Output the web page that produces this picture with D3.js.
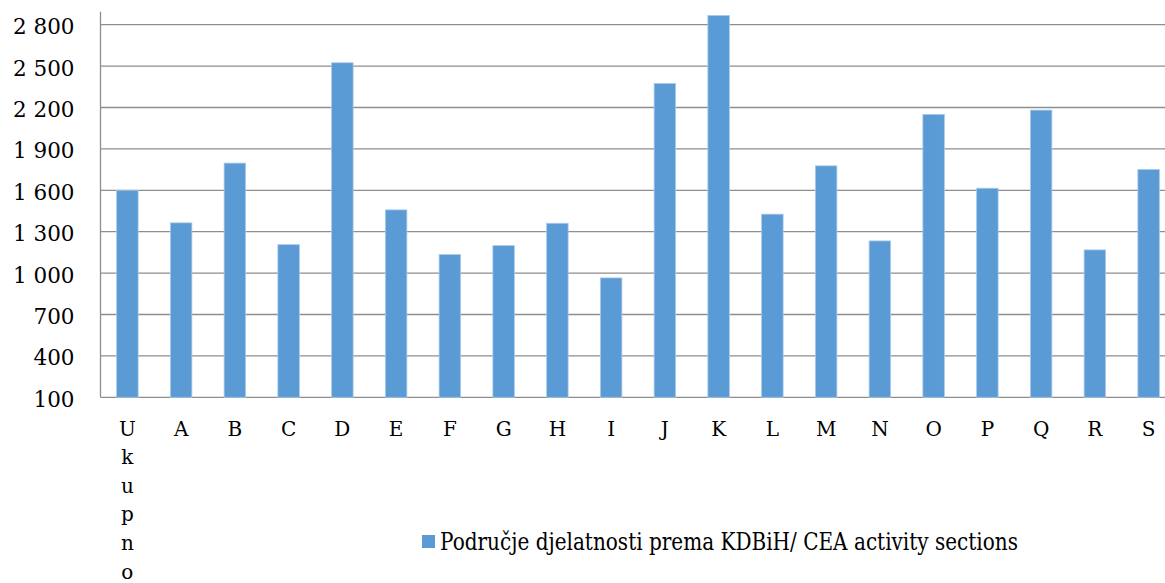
<!DOCTYPE html>
<html>
<head>
<meta charset="utf-8">
<script src="https://cdn.jsdelivr.net/npm/d3@7"></script>
<style>
  body { margin: 0; background: #fff; }
  svg { display: block; }
  .tick text { font-family: "DejaVu Serif", serif; fill: #000; }
</style>
</head>
<body>
<div id="chart"></div>
<script>
// Data
var categories = ["Ukupno", "A", "B", "C", "D", "E", "F", "G", "H", "I",
                  "J", "K", "L", "M", "N", "O", "P", "Q", "R", "S"];
var values = [1600, 1364, 1797, 1206, 2524, 1458, 1134, 1199, 1361, 965,
              2374, 2867, 1427, 1777, 1233, 2149, 1615, 2181, 1168, 1750];
var yTicks = [100, 400, 700, 1000, 1300, 1600, 1900, 2200, 2500, 2800];
var seriesName = "Područje djelatnosti prema KDBiH/ CEA activity sections";

// Layout
var W = 1165, H = 583;
var plot = { left: 100.5, right: 1175.5, top: 11.7, bottom: 397.3 };
var barColor = "#5b9bd5";
var gridColor = "#8e8e8e";

var svg = d3.select("#chart").append("svg")
  .attr("width", W)
  .attr("height", H);

// Scales
var x = d3.scaleBand()
  .domain(categories)
  .range([plot.left, plot.right])
  .paddingInner(0.6)
  .paddingOuter(0.3);

var y = d3.scaleLinear()
  .domain([100, 2894])
  .range([plot.bottom, plot.top]);

// Gridlines
svg.append("g")
  .attr("class", "grid")
  .selectAll("line")
  .data(yTicks)
  .enter().append("line")
    .attr("x1", plot.left)
    .attr("x2", W)
    .attr("y1", function(d) { return y(d); })
    .attr("y2", function(d) { return y(d); })
    .style("stroke", gridColor)
    .style("stroke-width", 1.3);

// Y axis labels
var yAxis = d3.axisLeft(y)
  .tickValues(yTicks)
  .tickSize(0)
  .tickPadding(26)
  .tickFormat(function(d) { return d3.format(",")(d).replace(",", " "); });

svg.append("g")
  .attr("transform", translate(plot.left, 0))
  .call(yAxis)
  .call(function(g) { g.select(".domain").remove(); })
  .selectAll("text")
    .style("font-size", "21.5px")
    .attr("dy", "0.42em");

// Vertical axis line
svg.append("line")
  .attr("x1", plot.left)
  .attr("x2", plot.left)
  .attr("y1", y.range()[1])
  .attr("y2", y.range()[0])
  .style("stroke", gridColor)
  .style("stroke-width", 1.3);

// Bars
svg.append("g")
  .attr("class", "bars")
  .selectAll("rect")
  .data(values)
  .enter().append("rect")
    .attr("x", function(d, i) { return x(categories[i]); })
    .attr("y", function(d) { return y(d); })
    .attr("width", x.bandwidth())
    .attr("height", function(d) { return y(100) - y(d); })
    .style("fill", barColor)
    .style("stroke", "#a9c9ea")
    .style("stroke-width", 0.8);

// X labels (long names wrap one letter per line, like the original)
var labelSize = 20;
var lineStep = 28.6;
var xl = svg.append("g")
  .attr("class", "xlabels")
  .selectAll("text")
  .data(categories)
  .enter().append("text")
    .attr("x", function(d) { return x(d) + x.bandwidth() / 2; })
    .attr("y", plot.bottom + 38.2)
    .style("font-family", "DejaVu Serif, serif")
    .style("font-size", labelSize + "px")
    .style("text-anchor", "middle")
    .style("fill", "#000");

xl.each(function(d) {
  var t = d3.select(this);
  var parts = d.length > 2 ? d.split("") : [d];
  parts.forEach(function(p, i) {
    t.append("tspan")
      .attr("x", x(d) + x.bandwidth() / 2)
      .attr("dy", i === 0 ? 0 : lineStep)
      .text(p);
  });
});

// Legend
var legend = svg.append("g")
  .attr("class", "legend")
  .attr("transform", translate(422, 535));

legend.append("rect")
  .attr("width", 13)
  .attr("height", 13)
  .style("fill", barColor);

legend.append("text")
  .attr("x", 18)
  .attr("y", 15)
  .attr("textLength", 578)
  .attr("lengthAdjust", "spacingAndGlyphs")
  .style("font-family", "DejaVu Serif, serif")
  .style("font-size", "25px")
  .style("fill", "#000")
  .text(seriesName);

function translate(a, b) {
  return "translate(" + a + " " + b + ")";
}
</script>
</body>
</html>
